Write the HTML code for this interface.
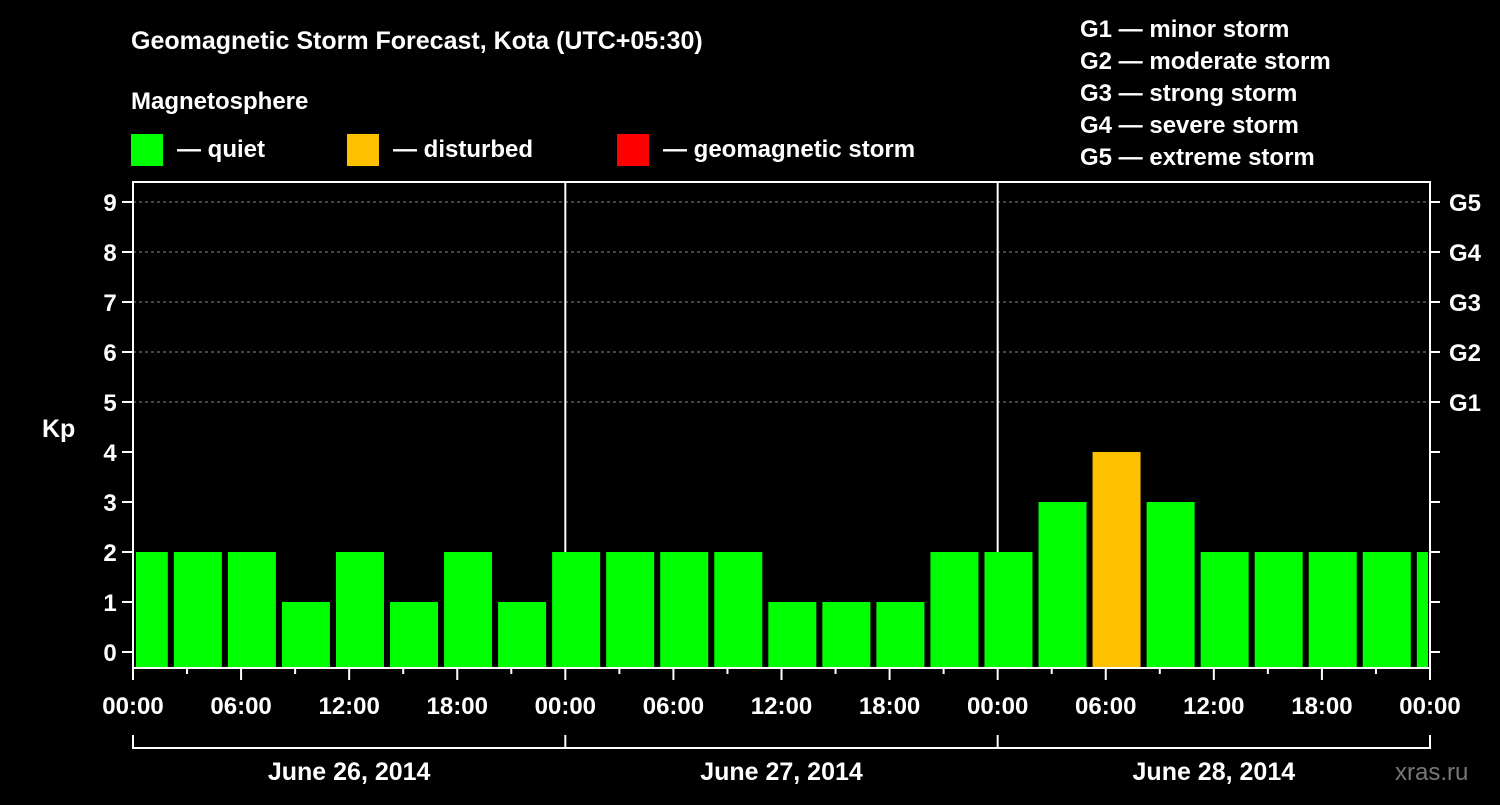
<!DOCTYPE html>
<html><head><meta charset="utf-8"><style>
body{margin:0;background:#000;width:1500px;height:800px;overflow:hidden;font-family:"Liberation Sans",Arial,sans-serif}
svg text{font-family:"Liberation Sans",Arial,sans-serif;font-weight:bold;fill:#fff}
</style></head><body>
<svg id="chart" width="1500" height="800" xmlns="http://www.w3.org/2000/svg">
<text x="131" y="49" font-size="25">Geomagnetic Storm Forecast, Kota (UTC+05:30)</text>
<text x="131" y="109" font-size="24">Magnetosphere</text>
<rect x="131" y="134" width="32" height="32" fill="#00ff00"/>
<text x="177" y="157" font-size="24">— quiet</text>
<rect x="347" y="134" width="32" height="32" fill="#ffc000"/>
<text x="393" y="157" font-size="24">— disturbed</text>
<rect x="617" y="134" width="32" height="32" fill="#ff0000"/>
<text x="663" y="157" font-size="24">— geomagnetic storm</text>
<g font-size="24">
<text x="1080" y="37">G1 — minor storm</text>
<text x="1080" y="69">G2 — moderate storm</text>
<text x="1080" y="101">G3 — strong storm</text>
<text x="1080" y="133">G4 — severe storm</text>
<text x="1080" y="165">G5 — extreme storm</text>
</g>
<text x="42" y="437" font-size="25">Kp</text>
<text x="1395" y="780" font-size="24" style="fill:#777;font-weight:normal">xras.ru</text>
<g id="grid"></g><g id="bars"></g><g id="axes"></g>
</svg>
<script>
const kpValues=[2,2,2,1,2,1,2,1,2,2,2,2,1,1,1,2,2,3,4,3,2,2,2,2,2];
const dayLabels=["June 26, 2014","June 27, 2014","June 28, 2014"];
const timeLabels=["00:00","06:00","12:00","18:00"];
const gLabels=["G1","G2","G3","G4","G5"];
const L=133,R=1430,T=182,B=668,NS="http://www.w3.org/2000/svg";
const xH=h=>L+h*(R-L)/72;
const yK=v=>652-50*v;
function mk(tag,attrs,parent,txt){const e=document.createElementNS(NS,tag);for(const k in attrs)e.setAttribute(k,attrs[k]);if(txt!=null)e.textContent=txt;document.getElementById(parent).appendChild(e);return e;}
for(let v=0;v<=9;v++){
  if(v>=5){const l=mk('line',{x1:L,x2:R,y1:yK(v),y2:yK(v),stroke:'#888','stroke-dasharray':'3,3','stroke-width':1},'grid');
  
  }
  const t=mk('text',{x:110,y:yK(v)+9,'font-size':24,'text-anchor':'middle'},'axes',String(v));
  
  
  mk('line',{x1:122,x2:L,y1:yK(v),y2:yK(v),stroke:'#fff','stroke-width':2},'axes');
  mk('line',{x1:R,x2:R+10,y1:yK(v),y2:yK(v),stroke:'#fff','stroke-width':2},'axes');
  if(v>=5){const g=mk('text',{x:1449,y:yK(v)+9,'font-size':24},'axes',gLabels[v-5]);
  
  }
}
kpValues.forEach((v,i)=>{
  const c=xH(0.6+3*i);let x1=Math.max(L+3,c-24),x2=Math.min(R-2,c+24);
  const col=v>=5?'#ff0000':(v>=4?'#ffc000':'#00ff00');
  const r=mk('rect',{x:x1,y:yK(v),width:x2-x1,height:B-yK(v),fill:col},'bars');
  
  
});
for(let d=1;d<3;d++){mk('line',{x1:xH(24*d),x2:xH(24*d),y1:T,y2:B,stroke:'#fff','stroke-width':2},'grid');}
const box=mk('rect',{x:L,y:T,width:R-L,height:B-T,fill:'none',stroke:'#fff','stroke-width':2},'axes');


for(let h=0;h<=72;h+=3){const maj=h%6===0;mk('line',{x1:xH(h),x2:xH(h),y1:B,y2:B+(maj?12:6),stroke:'#fff','stroke-width':2},'axes');}
for(let h=0;h<=72;h+=6){const t=mk('text',{x:xH(h),y:714,'font-size':24,'text-anchor':'middle'},'axes',timeLabels[(h/6)%4]);
  
  }
mk('line',{x1:L,x2:R,y1:748,y2:748,stroke:'#fff','stroke-width':2},'axes');
for(let d=0;d<=3;d++)mk('line',{x1:xH(24*d),x2:xH(24*d),y1:735,y2:749,stroke:'#fff','stroke-width':2},'axes');
dayLabels.forEach((s,d)=>{const t=mk('text',{x:xH(24*d+12),y:780,'font-size':25,'text-anchor':'middle'},'axes',s);
  
  });
</script>
</body></html>
